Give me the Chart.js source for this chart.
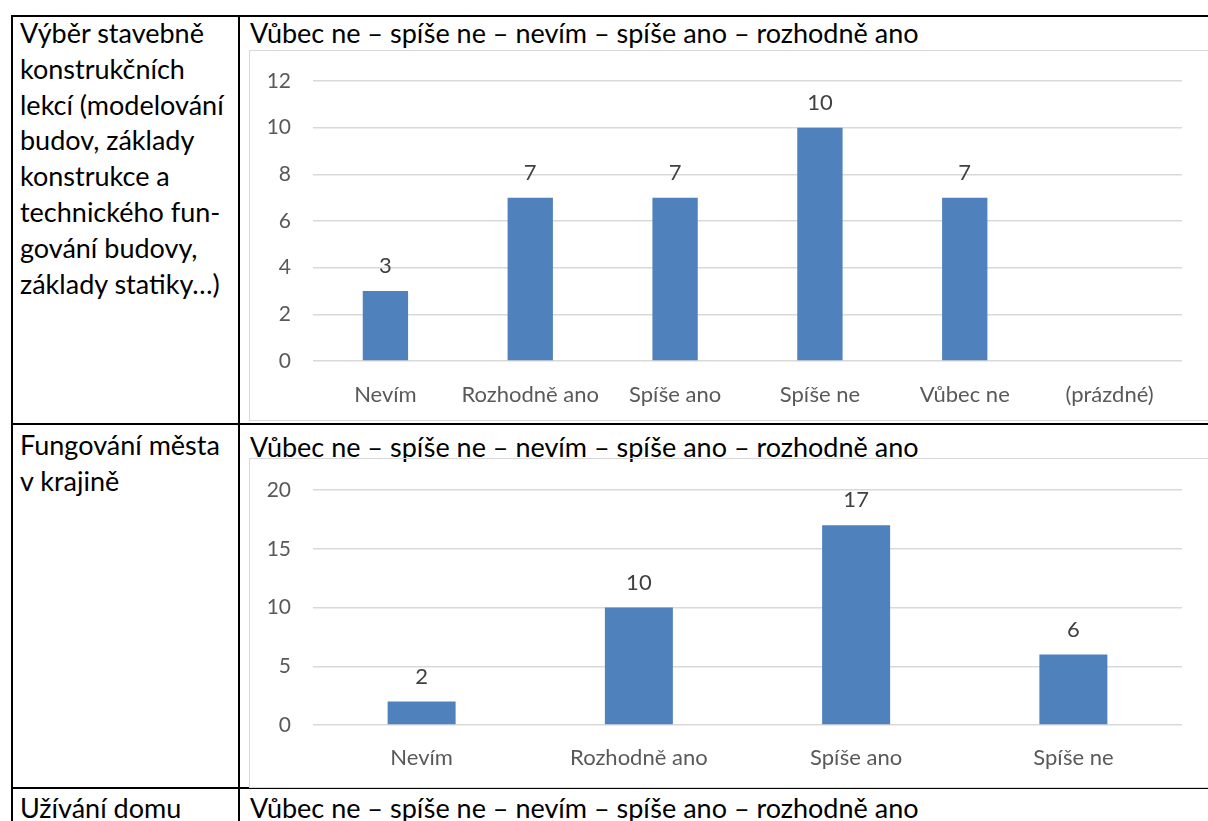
<!DOCTYPE html>
<html>
<head>
<meta charset="utf-8">
<script src="https://cdn.jsdelivr.net/npm/chart.js@4"></script>
<style>
  html, body { margin: 0; padding: 0; background: #fff; }
  body { width: 1208px; height: 821px; position: relative; overflow: hidden; font-family: Lato, "Noto Sans", sans-serif; color: #000; }
  .hline { position: absolute; background: #000; height: 2px; left: 11px; right: -10px; }
  .vline { position: absolute; background: #000; width: 2px; top: 15px; bottom: -10px; }
  .cell { position: absolute; font-size: 27px; line-height: 35.8px; white-space: nowrap; }
  .box { position: absolute; border: 1px solid #d9d9d9; left: 249px; width: 958px; }
  .box canvas { display: block; }
</style>
</head>
<body>
<div class="hline" style="top:15px"></div>
<div class="hline" style="top:423px"></div>
<div class="hline" style="top:787px"></div>
<div class="vline" style="left:11px"></div>
<div class="vline" style="left:238px"></div>

<div class="cell" id="label1" style="left:20px; top:15px"></div>
<div class="cell" id="title1" style="left:250px; top:15px"></div>
<div class="box" style="top:50px; height:369px"><canvas id="c1" width="958" height="369"></canvas></div>

<div class="cell" id="label2" style="left:20px; top:427px"></div>
<div class="cell" id="title2" style="left:250px; top:429px"></div>
<div class="box" style="top:458px; height:328px"><canvas id="c2" width="958" height="328"></canvas></div>

<div class="cell" id="label3" style="left:20px; top:790px"></div>
<div class="cell" id="title3" style="left:250px; top:790px"></div>

<script>
// scale title shared by every row
const SCALE_TITLE = "Vůbec ne – spíše ne – nevím – spíše ano – rozhodně ano";

const rowLabels = [
  ["Výběr stavebně", "konstrukčních", "lekcí (modelování", "budov, základy", "konstrukce a", "technického fun-", "gování budovy,", "základy statiky…)"],
  ["Fungování města", "v krajině"],
  ["Užívání domu"],
];

const cats1 = ["Nevím", "Rozhodně ano", "Spíše ano", "Spíše ne", "Vůbec ne", "(prázdné)"];
const vals1 = [3, 7, 7, 10, 7, null];
const ticks1 = { max: 12, step: 2 };

const cats2 = ["Nevím", "Rozhodně ano", "Spíše ano", "Spíše ne"];
const vals2 = [2, 10, 17, 6];
const ticks2 = { max: 20, step: 5 };

const BAR = "#4f81bd";
const AXIS_TXT = "#595959";
const LABEL_TXT = "#404040";
const GRID = "#d9d9d9";
const FONT = "Lato, 'Noto Sans', sans-serif";

rowLabels.forEach((lines, i) => {
  document.getElementById("label" + (i + 1)).innerHTML = lines.join("<br>");
  document.getElementById("title" + (i + 1)).textContent = SCALE_TITLE;
});

// value labels above each bar (no datalabels plugin available offline)
const valueLabels = {
  id: "valueLabels",
  afterDatasetsDraw(chart) {
    const ctx = chart.ctx;
    const meta = chart.getDatasetMeta(0);
    const data = chart.data.datasets[0].data;
    ctx.save();
    ctx.font = "22px " + FONT;
    ctx.fillStyle = LABEL_TXT;
    ctx.textAlign = "center";
    ctx.textBaseline = "middle";
    meta.data.forEach((bar, i) => {
      if (data[i] == null) return;
      ctx.fillText(String(data[i]), bar.x, bar.y - 25);
    });
    ctx.restore();
  },
};

function makeChart(id, cats, vals, t, pad, xAxisH, xPad) {
  return new Chart(document.getElementById(id), {
    type: "bar",
    data: {
      labels: cats,
      datasets: [{
        data: vals,
        backgroundColor: BAR,
        borderWidth: 0,
        categoryPercentage: 1,
        barPercentage: 0.313,
      }],
    },
    options: {
      responsive: false,
      animation: false,
      layout: { padding: pad },
      plugins: { legend: { display: false }, tooltip: { enabled: false } },
      scales: {
        x: {
          grid: { display: false },
          border: { display: false },
          ticks: { color: AXIS_TXT, font: { family: FONT, size: 22 }, maxRotation: 0, autoSkip: false, padding: xPad },
          afterFit: (s) => { s.height = xAxisH; },
        },
        y: {
          min: 0,
          max: t.max,
          grid: { color: GRID, lineWidth: 1.5, drawTicks: false },
          border: { display: false },
          ticks: { stepSize: t.step, color: AXIS_TXT, font: { family: FONT, size: 21 }, padding: 22 },
          // fixed width; drop the label-driven top/bottom padding so layout.padding rules
          afterFit: (s) => { s.width = 63; s.paddingTop = 0; s.paddingBottom = 0; },
        },
      },
    },
    plugins: [valueLabels],
  });
}

makeChart("c1", cats1, vals1, ticks1, { top: 30, right: 26, bottom: 0, left: 0 }, 59, 13);
makeChart("c2", cats2, vals2, ticks2, { top: 31, right: 26, bottom: 0, left: 0 }, 62, 12);
</script>
</body>
</html>
